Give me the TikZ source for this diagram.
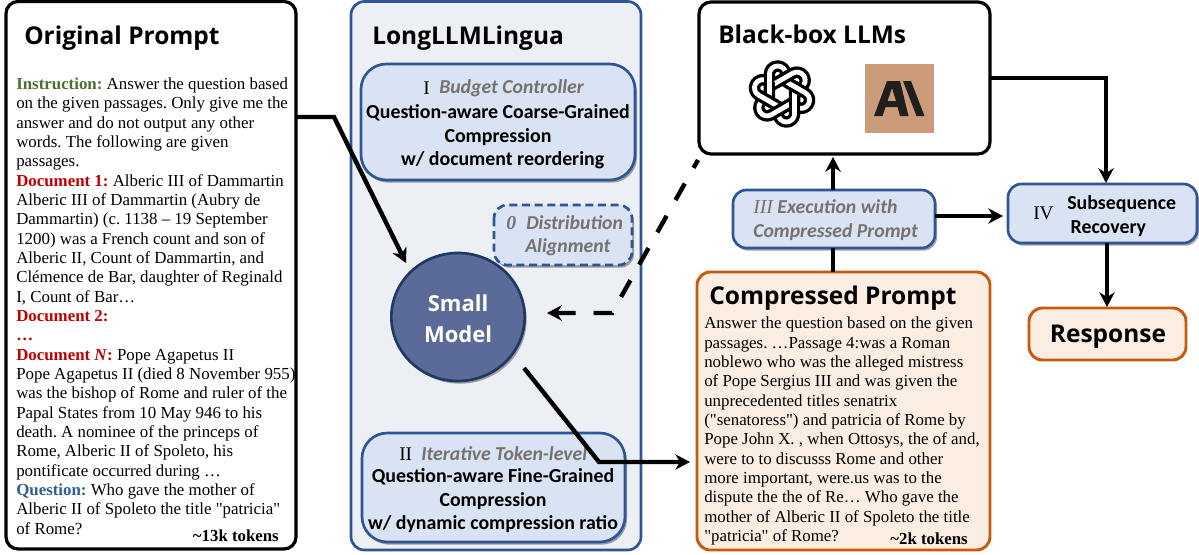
\documentclass[tikz,border=0pt]{standalone}
\usepackage{fontspec}
\newfontfamily\bodyfont{Liberation Serif}
\newfontfamily\headfont{Open Sans}
\newfontfamily\subfont{Carlito}
\usetikzlibrary{arrows.meta,shadows,calc,shapes.geometric}
\definecolor{frameblue}{HTML}{2F5597}
\definecolor{panelfill}{HTML}{ECF0F4}
\definecolor{boxfill}{HTML}{DAE3F3}
\definecolor{circfill}{HTML}{5B6B99}
\definecolor{circline}{HTML}{203864}
\definecolor{orangeline}{HTML}{C55A11}
\definecolor{orangefill}{HTML}{FBEDE2}
\definecolor{instgreen}{HTML}{4E6E32}
\definecolor{docred}{HTML}{C00000}
\definecolor{qblue}{HTML}{2F5F8F}
\definecolor{subgray}{HTML}{767171}
\definecolor{anthbg}{HTML}{CC9B7A}
\definecolor{anthfg}{HTML}{1F1F1E}
\tikzset{
  softshadow/.style={drop shadow={shadow xshift=1.5pt,shadow yshift=-2pt,opacity=.35,fill=black}},
  blackbox/.style={draw=black,line width=2.4pt,rounded corners=9pt,fill=white},
  bluebox/.style={draw=frameblue,line width=2pt,fill=boxfill,softshadow},
  orangebox/.style={draw=orangeline,line width=2.2pt,fill=orangefill,rounded corners=10pt},
  conn/.style={draw=black,line width=3.3pt,-{Stealth[length=11pt,width=11.5pt,inset=3.5pt]}},
  plainconn/.style={draw=black,line width=3.3pt},
  bodytext/.style={inner sep=0pt,align=left,anchor=north west,font=\fontsize{12.65}{14.5}\bodyfont\frenchspacing},
  headtext/.style={inner sep=0pt,anchor=west,font=\fontsize{18.35}{20}\headfont\bfseries},
  boldsub/.style={inner sep=0pt,align=center,font=\fontsize{14.9}{17.6}\subfont\bfseries},
  graysub/.style={inner sep=0pt,align=center,text=subgray,font=\fontsize{14.8}{17.6}\subfont\bfseries\itshape},
  numeral/.style={inner sep=0pt,anchor=west,font=\fontsize{14.5}{15}\bodyfont},
  tokentext/.style={inner sep=0pt,anchor=east,font=\fontsize{12.6}{14}\bodyfont\bfseries},
  ribbonout/.style={draw=black,line width=8.6pt,line join=round},
  ribbonin/.style={draw=white,line width=3.6pt,line join=round},
}
\begin{document}
\begin{tikzpicture}[x=0.75pt,y=-0.75pt]
\useasboundingbox (0,0) rectangle (1199,554);
% panels
\draw[blackbox] (6,1.5) rectangle (296,549);
\coordinate (origeast) at (296,117);
\draw[draw=frameblue,line width=2pt,fill=panelfill,rounded corners=10pt] (351,1.5) rectangle (641,550);
\draw[blackbox] (699,2) rectangle (990,154);
\draw[orangebox] (697,272) rectangle (990,550);
% blue boxes
\draw[bluebox,rounded corners=19pt] (361,64) rectangle (635,180);
\draw[bluebox,rounded corners=19pt] (362,433) rectangle (625,542);
\draw[bluebox,dashed,dash pattern=on 6pt off 3.5pt,rounded corners=10pt] (494,205) rectangle (632,265);
\draw[bluebox,rounded corners=10pt] (733,190) rectangle (935,248);
\draw[bluebox,rounded corners=10pt] (1008,184) rectangle (1197,243);
\draw[orangebox] (1029,308) rectangle (1186,360);
% circle
\node[ellipse,draw=circline,line width=2pt,fill=circfill,minimum width=100pt,minimum height=96pt,inner sep=0pt,softshadow] (model) at (458,317) {};
\node[inner sep=0pt,align=center,text=white,font=\fontsize{16.5}{23}\headfont\bfseries] (modeltxt) at (458,319) {Small\\Model};
% headings
\node[headtext] (origtitle) at (24,38) {Original Prompt};
\node[headtext] (longtitle) at (372,38) {LongLLMLingua};
\node[headtext] (blacktitle) at (718,34) {Black-box LLMs};
\node[headtext] (comptitle) at (709,298) {Compressed Prompt};
\node[headtext,anchor=center] (resptitle) at (1108,337) {Response};
% body
\node[bodytext] (origtext) at (16,77.5) {\textcolor{instgreen}{\textbf{Instruction:}} Answer the question based\\
on the given passages. Only give me the\\
answer and do not output any other\\
words. The following are given\\
passages.\\
\textcolor{docred}{\textbf{Document 1:}} Alberic III of Dammartin\\
Alberic III of Dammartin (Aubry de\\
Dammartin) (c. 1138 – 19 September\\
1200) was a French count and son of\\
Alberic II, Count of Dammartin, and\\
Clémence de Bar, daughter of Reginald\\
I, Count of Bar…\\
\textcolor{docred}{\textbf{Document 2:}}\\
\textcolor{docred}{\textbf{…}}\\
\textcolor{docred}{\textbf{Document \textit{N}:}} Pope Agapetus II\\
Pope Agapetus II (died 8 November 955)\\
was the bishop of Rome and ruler of the\\
Papal States from 10 May 946 to his\\
death. A nominee of the princeps of\\
Rome, Alberic II of Spoleto, his\\
pontificate occurred during …\\
\textcolor{qblue}{\textbf{Question:}} Who gave the mother of\\
Alberic II of Spoleto the title "patricia"\\
of Rome?};
\node[tokentext] (origtok) at (279,536) {\textasciitilde 13k tokens};
\node[bodytext] (comptext) at (704,317) {Answer the question based on the given\\
passages. …Passage 4:was a Roman\\
noblewo who was the alleged mistress\\
of Pope Sergius III and was given the\\
unprecedented titles senatrix\\
("senatoress") and patricia of Rome by\\
Pope John X. , when Ottosys, the of and,\\
were to to discusss Rome and other\\
more important, were.us was to the\\
dispute the the of Re… Who gave the\\
mother of Alberic II of Spoleto the title\\
"patricia" of Rome?};
\node[tokentext] (comptok) at (968,539) {\textasciitilde 2k tokens};
% box I
\node[numeral] (ionenum) at (423,88) {I};
\node[graysub,anchor=west] (ionelab) at (439,88) {Budget Controller};
\node[boldsub] (ione) at (498,137) {Question-aware Coarse-Grained\\Compression\hspace{9pt}\\\hspace{7pt}w/ document reordering};
% box 0
\node[graysub,anchor=west] (zeronum) at (506,223) {{\bodyfont\bfseries\itshape 0}};
\node[graysub,anchor=west] (zerolab) at (526,223) {Distribution};
\node[graysub,anchor=west] (zerolabb) at (525,247) {Alignment};
% box II
\node[numeral] (iinum) at (399,454) {II};
\node[graysub,anchor=west] (iilab) at (421,454) {Iterative Token-level};
\node[boldsub] (ii) at (493,501) {Question-aware Fine-Grained\\Compression\\w/ dynamic compression ratio};
% box III
\node[graysub,anchor=west,align=left] (iii) at (753,220) {{\bodyfont\itshape\mdseries III} Execution with\\Compressed Prompt};
% box IV
\node[numeral] (ivnum) at (1033,213) {IV};
\node[inner sep=0pt,anchor=west,align=left,font=\fontsize{14.9}{17.6}\subfont\bfseries] (iv) at (1067,216) {Subsequence\\\hspace{2.5pt}Recovery};
% logos
\begin{scope}[shift={(782,94)},x=0.78pt,y=0.78pt]
\foreach \a in {0,60,...,300}{
  \draw[ribbonout,rotate=\a] (-12.15,-7) -- (-12.15,19) arc[start angle=180,end angle=0,radius=6.2pt] -- (4.15,13);
  \draw[ribbonin,rotate=\a] (-12.15,-7) -- (-12.15,19) arc[start angle=180,end angle=0,radius=6.2pt] -- (4.15,13);
}
\foreach \a in {0,60,...,300}{
  \draw[ribbonout,rotate=\a] (-12.15,0) -- (-12.15,19);
  \draw[ribbonin,rotate=\a] (-12.15,-0.5) -- (-12.15,19.5);
}
\end{scope}
\fill[anthbg] (865,64) rectangle (934,133);
\fill[anthfg,even odd rule] (874,116) -- (887,81) -- (900,81) -- (908.5,116) -- (900,116) -- (897.5,107) -- (885.5,107) -- (882.5,116) -- cycle (887.5,101) -- (896,101) -- (892,88) -- cycle;
\fill[anthfg] (903,81) -- (911,81) -- (924.5,116) -- (916.5,116) -- cycle;
% connectors
\coordinate (a1) at (334,117);
\coordinate (a2) at (406,263);
\draw[conn] (origeast) -- (a1) -- (a2);
\coordinate (d0) at (698,160);
\coordinate (d1) at (612,313);
\coordinate (d2) at (547,313);
\draw[conn,dashed,dash pattern=on 14.25pt off 13.5pt,dash phase=7.5pt] (d0) -- (d1) -- (d2);
\coordinate (m0) at (524,368);
\coordinate (m1) at (599,462);
\coordinate (m2) at (690,462);
\draw[conn] (m0) -- (m1) -- (m2);
\draw[plainconn] (833,272) -- (833,248);
\draw[conn] (833,190) -- (833,157);
\draw[conn] (935,216) -- (1003,216);
\coordinate (b1) at (1106,78);
\draw[conn] (990,78) -- (b1) -- (1106,183);
\draw[conn] (1107,243) -- (1107,307);
\end{tikzpicture}
\end{document}
